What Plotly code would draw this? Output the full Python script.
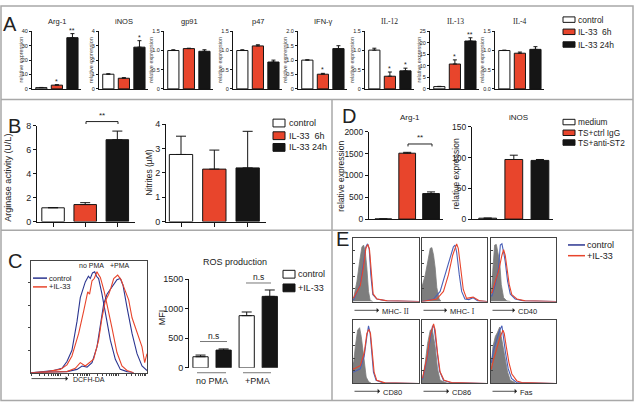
import plotly.graph_objects as go

W, H = 634, 407
RED = '#e8452c'
BLK = '#151515'
WHT = '#ffffff'
NAVY = '#2b3590'
BLUE_E = '#4a60b8'
GRAY = '#7d7d7d'
TXT = '#222222'
FONT = 'Liberation Sans, Arial, sans-serif'
SERIF = 'Liberation Serif, Times New Roman, serif'

#### data ####
# panel A: relative expression (control, IL-33 6h, IL-33 24h)
a_names = ['Arg-1', 'iNOS', 'gp91', 'p47', 'IFN-γ', 'IL-12', 'IL-13', 'IL-4']
a_vals = [[0.9, 2.6, 35.6], [1.02, 0.74, 2.9], [1.0, 1.05, 0.98], [1.0, 1.12, 0.70],
          [1.0, 0.51, 1.40], [1.01, 0.33, 0.47], [1.0, 10.8, 20.8], [1.0, 0.93, 1.03]]
a_errs = [[0.1, 0.3, 2.8], [0.03, 0.04, 0.45], [0.02, 0.01, 0.04], [0.02, 0.03, 0.05],
          [0.01, 0.03, 0.10], [0.05, 0.11, 0.07], [0.1, 1.8, 1.4], [0.01, 0.03, 0.07]]
a_stars = [['', '*', '**'], ['', '', '*'], ['', '', ''], ['', '', ''],
           ['', '*', ''], ['', '*', '*'], ['', '*', '**'], ['', '', '']]
a_ymax = [40, 4, 1.5, 1.5, 2.0, 1.5, 25, 1.5]
a_ticks = [[0, 10, 20, 30, 40], [0, 1, 2, 3, 4], [0, 0.5, 1.0, 1.5], [0, 0.5, 1.0, 1.5],
           [0, 0.5, 1.0, 1.5, 2.0], [0, 0.5, 1.0, 1.5], [0, 5, 10, 15, 20, 25], [0, 0.5, 1.0, 1.5]]
a_ticktext = [['0', '10', '20', '30', '40'], ['0', '1', '2', '3', '4'], ['0', '0.5', '1.0', '1.5'],
              ['0', '0.5', '1.0', '1.5'], ['0', '0.5', '1.0', '1.5', '2.0'], ['0', '0.5', '1.0', '1.5'],
              ['0', '5', '10', '15', '20', '25'], ['0.0', '0.5', '1.0', '1.5']]
a_legend = ['control', 'IL-33\u00a0\u00a06h', 'IL-33 24h']

# panel B
b_arginase = [1.15, 1.42, 6.85]
b_arginase_err = [0.02, 0.16, 0.72]
b_nitrites = [2.75, 2.15, 2.2]
b_nitrites_err = [0.75, 0.78, 1.5]
b_legend = ['control', 'IL-33\u00a0\u00a06h', 'IL-33 24h']

# panel C: ROS production (MFI)
c_groups = ['no PMA', '+PMA']
c_control = [188, 882]
c_control_err = [28, 62]
c_il33 = [300, 1208]
c_il33_err = [20, 108]
# DCFH-DA histograms (channel 0-100, % of max)
c_blue_nopma_x = [0, 10.9, 19.5, 26.7, 31, 35.3, 39.7, 42.5, 46.8, 49.5, 51.1, 53, 54.9, 56.5, 58.3, 61.2, 64.9, 68.4, 72.7, 77, 82.8, 88.5]
c_blue_nopma_y = [0, 1, 2, 4, 10, 20, 46, 67, 81, 86, 84, 89, 90, 86, 84, 70, 49, 29, 12, 3, 1, 0]
c_red_nopma_x = [0, 13.8, 25.3, 31, 35.3, 41.1, 45.4, 48.9, 50.5, 52.6, 54.5, 56.9, 58.5, 59.8, 63.2, 67, 69.8, 74.1, 78.4, 82.8, 88.5]
c_red_nopma_y = [0, 1, 3, 7, 15, 35, 55, 72, 70, 82, 84, 90, 87, 85, 72, 55, 40, 18, 6, 2, 0]
c_blue_pma_x = [0, 31, 39.7, 44, 48.3, 52.6, 56.9, 59.8, 62.6, 65.5, 69.8, 72, 74.1, 77, 79.3, 82.8, 87.1, 91.4, 95.7, 100]
c_blue_pma_y = [0, 1, 3, 6, 5, 9, 23, 43, 61, 70, 77, 80, 83, 84, 78, 58, 35, 17, 6, 2]
c_red_pma_x = [0, 31, 38.2, 42.5, 46.8, 54, 58.3, 61.2, 64.1, 67, 69, 71.3, 74.7, 77.6, 80.5, 84.2, 87.1, 91.4, 95.7, 98, 100]
c_red_pma_y = [0, 1, 4, 9, 6, 12, 29, 49, 64, 70, 76, 84, 87, 83, 75, 65, 49, 35, 23, 9, 17]

# panel D: relative expression (medium, TS+ctrl IgG, TS+anti-ST2)
d_arg1 = [4, 1510, 585]
d_arg1_err = [0, 20, 38]
d_inos = [1.5, 97, 95.5]
d_inos_err = [0, 7, 1.5]
d_legend = ['medium', 'TS+ctrl IgG', 'TS+anti-ST2']

# panel E: surface marker histograms (channel 0-100, % of max): isotype, control, +IL-33
e_labels = ['MHC- <span style="font-family:Liberation Serif">II</span>',
            'MHC- <span style="font-family:Liberation Serif">I</span>', 'CD40', 'CD80', 'CD86', 'Fas']
e_iso_x = [[0, 1, 6, 10, 13.5, 16, 18.5, 21, 23.5, 26, 30],
           [0, 1, 5, 8.6, 12.7, 15.2, 17.8, 20.3, 22.8, 26.4, 29],
           [0, 0.5, 3, 5.6, 8.2, 10.7, 13.3, 15.8, 19.4, 24.5, 30],
           [0, 1, 3.5, 7, 10, 12.5, 15, 17.5, 20, 23.5, 28],
           [0, 1, 5, 8.6, 12.7, 15.7, 20.3, 23.9, 27.9, 35.5, 40],
           [0, 0.5, 3, 6.6, 10.2, 13.3, 15.8, 18.4, 21.9, 25.5, 29.6, 37.2]]
e_iso_y = [[0, 5, 32, 63, 86, 89, 80, 53, 16, 2, 0],
           [27, 27, 42, 63, 84, 85, 73, 53, 22, 4, 1],
           [11, 11, 53, 89, 90, 78, 63, 27, 6, 1, 0],
           [33, 33, 58, 84, 88, 74, 53, 28, 10, 3, 0],
           [8, 8, 33, 63, 84, 86, 58, 23, 5, 1.5, 0],
           [28, 28, 58, 74, 81, 89, 74, 58, 38, 18, 5, 1.5]]
e_ctrl_x = [[0, 1, 11, 16, 19.5, 22, 24.5, 27, 30, 36, 51, 100],
            [0, 17.8, 27.9, 35.5, 43, 48.2, 50.8, 53.3, 57.4, 61, 66, 72, 78.7, 86, 100],
            [0, 1.5, 6.6, 11.7, 14.3, 16.8, 19.4, 21.9, 25.5, 29.6, 37.2, 50, 100],
            [0, 1, 11, 17, 21, 23.5, 26, 28.5, 31, 35, 46, 100],
            [0, 1, 7.6, 12.7, 16.2, 18.8, 22.8, 26.9, 33, 43, 100],
            [0, 0.5, 4, 9.2, 13.3, 16.8, 19.4, 22.4, 26.5, 31.6, 39.3, 100]]
e_ctrl_y = [[3, 3, 27, 58, 86, 91, 84, 42, 11, 4, 1, 0],
            [0, 4, 16, 42, 68, 86, 89, 78, 42, 16, 4, 3, 6, 1, 0],
            [9, 9, 27, 53, 89, 91, 78, 63, 32, 12, 4, 1, 0],
            [18, 18, 23, 43, 74, 91, 79, 48, 18, 5, 1, 0],
            [7, 7, 38, 74, 91, 88, 53, 20, 5, 1.5, 0],
            [33, 33, 53, 69, 84, 91, 69, 48, 23, 8, 1.5, 0]]
e_il33_x = [[0, 1, 11, 16, 19.5, 22.5, 25, 27.5, 30.5, 36.5, 52, 100],
            [0, 22.8, 33, 40.6, 47.2, 50.8, 53.3, 55.8, 59.4, 63.5, 68.5, 78.7, 88.8, 100],
            [0, 1.5, 6.6, 11.7, 16.8, 19.4, 21.9, 24.5, 28, 32, 39.8, 52.6, 100],
            [0, 1, 11, 17, 21, 24, 26.5, 29, 32, 36, 48.5, 100],
            [0, 1, 7.6, 12.7, 17.8, 20.3, 23.9, 27.9, 34, 45.7, 100],
            [0, 0.5, 4, 9.2, 14.3, 18.4, 20.4, 23.5, 27.6, 32.1, 39.8, 47.4, 100]]
e_il33_y = [[6, 6, 25, 55, 84, 90, 82, 44, 12, 4, 1, 0],
            [0, 4, 16, 42, 73, 84, 91, 84, 53, 19, 5, 7, 1, 0],
            [14, 14, 32, 48, 73, 82, 73, 53, 27, 11, 4, 1, 0],
            [23, 23, 28, 48, 79, 85, 79, 48, 18, 5, 1, 0],
            [9, 9, 41, 76, 94, 84, 48, 18, 5, 1.5, 0],
            [23, 23, 38, 58, 74, 84, 79, 58, 33, 15, 4, 1.5, 0]]

#### figure ####
fig = go.Figure()
annotations = []
shapes = []
axes = {}
count = [0]


def fx(p):
    return p / W


def fy(p):
    return 1 - p / H


def new_axes(left, right, top, bottom, xr, yr):
    count[0] += 1
    i = count[0]
    s = '' if i == 1 else str(i)
    axes['xaxis' + s] = dict(domain=[fx(left), fx(right)], range=xr, anchor='y' + s, showgrid=False,
                             zeroline=False, showticklabels=False, fixedrange=True)
    axes['yaxis' + s] = dict(domain=[fy(bottom), fy(top)], range=yr, anchor='x' + s, showgrid=False,
                             zeroline=False, fixedrange=True)
    return 'x' + s, 'y' + s, 'xaxis' + s, 'yaxis' + s


def txt(s, x, y, size=8, xa='center', ya='middle', angle=0, family=FONT, color=TXT):
    annotations.append(dict(text=s, x=fx(x), y=fy(y), xref='paper', yref='paper', showarrow=False,
                            xanchor=xa, yanchor=ya, textangle=angle, borderpad=0,
                            font=dict(size=size, family=family, color=color)))


def line(x0, y0, x1, y1, color=TXT, width=1):
    shapes.append(dict(type='line', xref='paper', yref='paper', x0=fx(x0), y0=fy(y0), x1=fx(x1), y1=fy(y1),
                       line=dict(color=color, width=width)))


def box(x0, y0, x1, y1, fill):
    shapes.append(dict(type='rect', xref='paper', yref='paper', x0=fx(x0), y0=fy(y0), x1=fx(x1), y1=fy(y1),
                       fillcolor=fill, line=dict(color=BLK, width=1)))


def arrow(x0, x1, y):
    annotations.append(dict(text='', x=fx(x1), y=fy(y), xref='paper', yref='paper', showarrow=True,
                            ax=-(x1 - x0), ay=0, arrowhead=1, arrowsize=1, arrowwidth=0.8, arrowcolor=TXT))


def bar_panel(vals, errs, colors, left, right, top, bottom, xr, ymax, tickvals, ticktext,
              bw=0.7, tfs=6, cap=2, xticks=False, xline=True, ticklen=2):
    xa, ya, xk, yk = new_axes(left, right, top, bottom, xr, [0, ymax])
    axes[yk].update(showline=True, linecolor=BLK, linewidth=1, ticks='outside', ticklen=ticklen,
                    tickwidth=1, tickcolor=BLK, tickvals=tickvals, ticktext=ticktext,
                    tickfont=dict(size=tfs, family=FONT, color=TXT))
    axes[xk].update(showline=xline, linecolor=BLK, linewidth=1)
    if xticks:
        axes[xk].update(ticks='outside', ticklen=4, tickwidth=1, tickcolor=BLK,
                        tickvals=list(range(len(vals))))
    fig.add_trace(go.Bar(x=list(range(len(vals))), y=vals, width=bw,
                         marker=dict(color=colors, line=dict(color=BLK, width=1)),
                         error_y=dict(type='data', array=errs, arrayminus=[0] * len(vals), symmetric=False,
                                      color=BLK, thickness=1, width=cap),
                         xaxis=xa, yaxis=ya, hoverinfo='skip', showlegend=False))
    return xa, ya


def hist_panel(left, right, top, bottom, curves, ytick_side='inside', xtickvals=None):
    xa, ya, xk, yk = new_axes(left, right, top, bottom, [0, 100], [0, 100])
    axes[xk].update(showline=True, mirror=True, linecolor='#444', linewidth=1)
    axes[yk].update(showline=True, mirror=True, linecolor='#444', linewidth=1, showticklabels=False,
                    ticks=ytick_side, ticklen=2, tickcolor='#444', tickvals=[20, 40, 60, 80])
    if xtickvals:
        axes[xk].update(ticks='outside', ticklen=2, tickcolor='#444', tickvals=xtickvals)
    for xs, ys, col, fill in curves:
        if fill:
            fig.add_trace(go.Scatter(x=xs, y=ys, mode='lines', fill='tozeroy', fillcolor=col,
                                     line=dict(color=col, width=0.8), xaxis=xa, yaxis=ya,
                                     hoverinfo='skip', showlegend=False))
        else:
            fig.add_trace(go.Scatter(x=xs, y=ys, mode='lines', line=dict(color=col, width=1.1),
                                     xaxis=xa, yaxis=ya, hoverinfo='skip', showlegend=False))


# ---------- panel A ----------
a_axis_x = [32, 99, 164, 233, 298, 365, 430, 495]
for i, name in enumerate(a_names):
    ax0 = a_axis_x[i]
    xa, ya = bar_panel(a_vals[i], a_errs[i], [WHT, RED, BLK], ax0, ax0 + 49, 27, 86, [-0.6, 2.55],
                       a_ymax[i], a_ticks[i], a_ticktext[i], bw=0.72, tfs=5.5, cap=2)
    fam = SERIF if name.startswith('IL') else FONT
    txt(name, ax0 + 25, 17, size=7.5, family=fam)
    nch = max(len(t) for t in a_ticktext[i])
    txt('relative expression', ax0 - 6 - 2.6 * nch, 56, size=5.5, angle=-90, color='#444')
    for j, st in enumerate(a_stars[i]):
        if st:
            annotations.append(dict(text=st, x=j, y=a_vals[i][j] + a_errs[i][j], xref=xa, yref=ya,
                                    showarrow=False, yanchor='bottom', yshift=-2,
                                    font=dict(size=7, family=FONT, color=TXT)))
txt('A', 10, 19, size=20)
for k, (lab, col) in enumerate(zip(a_legend, [WHT, RED, BLK])):
    yy = [15, 27.5, 40.5][k]
    box(563, yy - 2.8, 575, yy + 2.8, col)
    txt(lab, 577, yy, size=8.5, xa='left')

# ---------- panel B ----------
bar_panel(b_arginase, b_arginase_err, [WHT, RED, BLK], 37, 135, 124, 222, [-0.5, 2.55], 8,
          [0, 2, 4, 6, 8], ['0', '2', '4', '6', '8'], bw=0.7, tfs=9, cap=5, xticks=True, ticklen=3)
bar_panel(b_nitrites, b_nitrites_err, [WHT, RED, BLK], 166, 266, 122, 222, [-0.45, 2.55], 4,
          [0, 1, 2, 3, 4], ['0', '1', '2', '3', '4'], bw=0.7, tfs=9, cap=5, xticks=True, ticklen=3)
txt('B', 14, 124, size=20)
txt('Arginase activity (U/L)', 8, 177, size=9, angle=-90)
txt('Nitrites (µM)', 149, 172, size=8.5, angle=-90)
line(86, 122, 86, 119.5)
line(86, 119.5, 118, 119.5)
line(118, 119.5, 118, 122)
txt('**', 102, 113, size=8)
for k, (lab, col) in enumerate(zip(b_legend, [WHT, RED, BLK])):
    yy = [121, 134, 146][k]
    box(273, yy - 4, 285, yy + 4, col)
    txt(lab, 288, yy, size=9, xa='left')

# ---------- panel C ----------
c_xt = []
for dec in range(4):
    for m in [1, 2, 3, 4, 5, 6, 7, 8, 9]:
        v = dec * 25 + 25 * [0, 0.301, 0.477, 0.602, 0.699, 0.778, 0.845, 0.903, 0.954][m - 1]
        c_xt.append(v)
hist_panel(31, 147, 262, 377,
           [(c_blue_nopma_x, c_blue_nopma_y, NAVY, False), (c_red_nopma_x, c_red_nopma_y, RED, False),
            (c_blue_pma_x, c_blue_pma_y, NAVY, False), (c_red_pma_x, c_red_pma_y, RED, False)],
           ytick_side='outside', xtickvals=c_xt)
txt('C', 15, 262, size=20)
line(33, 280, 47, 280, NAVY, 1.5)
line(33, 289, 47, 289, RED, 1.5)
txt('control', 48, 280, size=7.5, xa='left')
txt('+IL-33', 48, 289, size=7.5, xa='left')
txt('no PMA', 91, 267, size=7)
txt('+PMA', 120, 267, size=7)
arrow(30, 68, 383)
txt('DCFH-DA', 72, 384, size=7, xa='left')

ros_vals = [c_control[0], c_il33[0], c_control[1], c_il33[1]]
ros_errs = [c_control_err[0], c_il33_err[0], c_control_err[1], c_il33_err[1]]
bar_panel(ros_vals, ros_errs, [WHT, BLK, WHT, BLK], 189, 279, 281, 372, [-0.5, 3.4], 1500,
          [0, 500, 1000, 1500], ['0', '500', '1000', '1500'], bw=0.66, tfs=9, cap=5, xline=False,
          ticklen=3)
txt('ROS production', 235, 263, size=9)
txt('MFI', 162, 320, size=9, angle=-90)
line(200, 345, 227, 345, '#777')
txt('n.s', 213, 339, size=8.5)
line(246, 285, 271, 285, '#777')
txt('n.s', 258, 279, size=8.5)
line(197, 377, 226, 377, '#777')
line(243, 377, 271, 377, '#777')
txt(c_groups[0], 212, 385, size=9)
txt(c_groups[1], 257, 385, size=9)
box(283, 272, 295, 280, WHT)
box(283, 286, 295, 294, BLK)
txt('control', 297, 276, size=9, xa='left')
txt('+IL-33', 297, 290, size=9, xa='left')

# ---------- panel D ----------
bar_panel(d_arg1, d_arg1_err, [WHT, RED, BLK], 369, 443, 130, 219.5, [-0.6, 2.5], 2000,
          [0, 500, 1000, 1500, 2000], ['0', '500', '1000', '1500', '2000'], bw=0.7, tfs=8.5, cap=4,
          ticklen=3)
bar_panel(d_inos, d_inos_err, [WHT, RED, BLK], 472, 553, 125, 219.5, [-0.6, 2.5], 150,
          [0, 50, 100, 150], ['0', '50', '100', '150'], bw=0.68, tfs=8.5, cap=4, ticklen=3)
txt('D', 349, 114, size=20)
txt('Arg-1', 410, 115, size=8)
txt('iNOS', 518, 115, size=8)
txt('relative expression', 341, 176, size=8.5, angle=-90)
txt('relative expression', 455.5, 173, size=8.5, angle=-90)
line(408, 145, 408, 142.5)
line(408, 142.5, 432, 142.5)
line(432, 142.5, 432, 145)
txt('**', 420, 136, size=8)
for k, (lab, col) in enumerate(zip(d_legend, [WHT, RED, BLK])):
    yy = [120, 131, 141][k]
    box(563, yy - 2.8, 575, yy + 2.8, col)
    txt(lab, 577, yy, size=8.3, xa='left')

# ---------- panel E ----------
e_boxes_x = [(353, 419), (422, 487), (491, 556)]
e_boxes_y = [(239, 304), (323, 388)]
e_label_y = [313, 396]
e_arrow_end = [379, 447, 515, 380, 449, 517]
for k in range(6):
    r, c = divmod(k, 3)
    l, rr = e_boxes_x[c]
    t, b = e_boxes_y[r]
    hist_panel(l, rr, t, b, [(e_iso_x[k], e_iso_y[k], GRAY, True),
                             (e_ctrl_x[k], e_ctrl_y[k], BLUE_E, False),
                             (e_il33_x[k], e_il33_y[k], RED, False)])
    arrow(l, e_arrow_end[k], e_label_y[r])
    txt(e_labels[k], e_arrow_end[k] + 2, e_label_y[r] + 1, size=7.5, xa='left')
txt('E', 342, 240, size=20)
line(568, 246, 585, 246, NAVY, 1.5)
line(568, 257, 585, 257, RED, 1.5)
txt('control', 586, 246, size=9, xa='left')
txt('+IL-33', 586, 257, size=9, xa='left')

# ---------- frame ----------
FR = '#a8a8a8'
shapes.append(dict(type='rect', xref='paper', yref='paper', x0=fx(1), y0=fy(405.5), x1=fx(633), y1=fy(1),
                   line=dict(color=FR, width=1.5)))
line(1, 97, 633, 97, FR, 1.5)
line(1, 231, 633, 231, FR, 1.5)
line(332, 97, 332, 405.5, FR, 1.5)

fig.update_layout(width=W, height=H, margin=dict(l=0, r=0, t=0, b=0), autosize=False,
                  paper_bgcolor='white', plot_bgcolor='rgba(0,0,0,0)', barmode='overlay',
                  showlegend=False, hovermode=False, annotations=annotations, shapes=shapes,
                  font=dict(family=FONT, color=TXT), **axes)
# the browser's default body margin would shift the figure, so remove it
fig.write_html('out.html', config={'displayModeBar': False},
               post_script="document.body.style.margin='0';document.body.style.overflow='hidden';")
